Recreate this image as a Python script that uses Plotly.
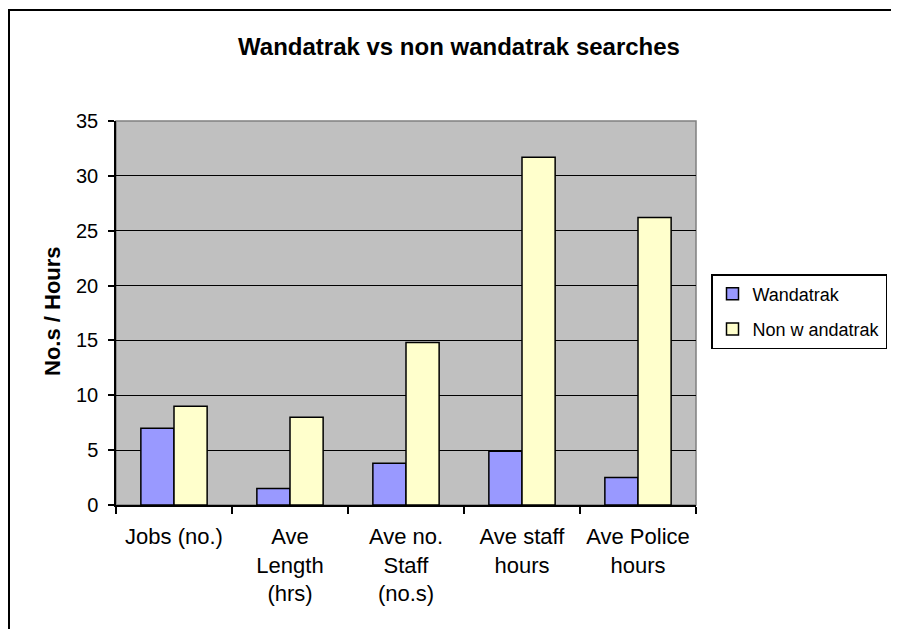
import plotly.graph_objects as go

categories = ["Jobs (no.)", "Ave<br>Length<br>(hrs)", "Ave no.<br>Staff<br>(no.s)",
              "Ave staff<br>hours", "Ave Police<br>hours"]
wandatrak = [7, 1.5, 3.8, 4.9, 2.5]
non_wandatrak = [9, 8, 14.8, 31.7, 26.2]
series_names = ["Wandatrak", "Non w andatrak"]
y_ticks = [0, 5, 10, 15, 20, 25, 30, 35]

FONT = "Liberation Sans, Arial, sans-serif"
OFF = 8  # page body margin

W, H = 899 - OFF, 629 - OFF
L, T = 116 - OFF, 121 - OFF
PW, PH = 580, 384

fig = go.Figure()
fig.add_trace(go.Bar(x=categories, y=wandatrak, name=series_names[0],
                     legendgroup="a",
                     marker=dict(color="#9999FF", line=dict(color="black", width=1.5))))
fig.add_trace(go.Bar(x=categories, y=non_wandatrak, name=series_names[1],
                     legendgroup="b",
                     marker=dict(color="#FFFFCC", line=dict(color="black", width=1.5))))

fig.update_layout(
    width=W, height=H,
    margin=dict(l=L, r=W - L - PW, t=T, b=H - T - PH, autoexpand=False),
    paper_bgcolor="white",
    plot_bgcolor="#C0C0C0",
    font=dict(family=FONT, color="black", size=20),
    bargap=1.5 / 3.5,
    bargroupgap=0,
    title=dict(text="<b>Wandatrak vs non wandatrak searches</b>",
               x=(459 - OFF) / W, xref="container", xanchor="center",
               y=1 - 39 / H, yref="container", yanchor="middle",
               font=dict(size=24, family=FONT, color="black")),
    xaxis=dict(showline=True, linecolor="black", linewidth=1.5,
               ticks="outside", tickson="boundaries", ticklen=7, tickcolor="black",
               tickwidth=1.5, tickfont=dict(size=22), tickangle=0, showgrid=False,
               automargin=False, ticklabelstandoff=11),
    yaxis=dict(range=[0, 35], tickvals=y_ticks, showline=True, linecolor="black",
               linewidth=1.5, ticks="outside", ticklen=6, tickcolor="black",
               tickwidth=1.5, showgrid=True, gridcolor="black", gridwidth=1,
               zeroline=False, tickfont=dict(size=20), automargin=False,
               ticklabelstandoff=6),
    legend=dict(x=(711 - 116) / 580, y=(505 - 274) / 384, xanchor="left", yanchor="top",
                bordercolor="black", borderwidth=1.5, bgcolor="white",
                font=dict(size=18), traceorder="grouped", tracegroupgap=9),
    showlegend=True,
)

# plot-area top/right border (gray)
fig.add_shape(type="rect", xref="paper", yref="paper", x0=0, y0=0, x1=1, y1=1,
              line=dict(color="#808080", width=1.5), layer="below")
# chart outer frame
fig.add_shape(type="rect", xref="paper", yref="paper",
              x0=(1 - L) / PW, y0=-0.4, x1=1.4, y1=(505 - 10) / 384,
              line=dict(color="black", width=2), fillcolor="rgba(0,0,0,0)")

fig.add_annotation(text="<b>No.s / Hours</b>", xref="paper", yref="paper",
                   x=(52 - 116) / 580, y=(505 - 311) / 384, textangle=-90,
                   showarrow=False, font=dict(size=22, family=FONT, color="black"),
                   xanchor="center", yanchor="middle")

fig.write_html("out.html")
